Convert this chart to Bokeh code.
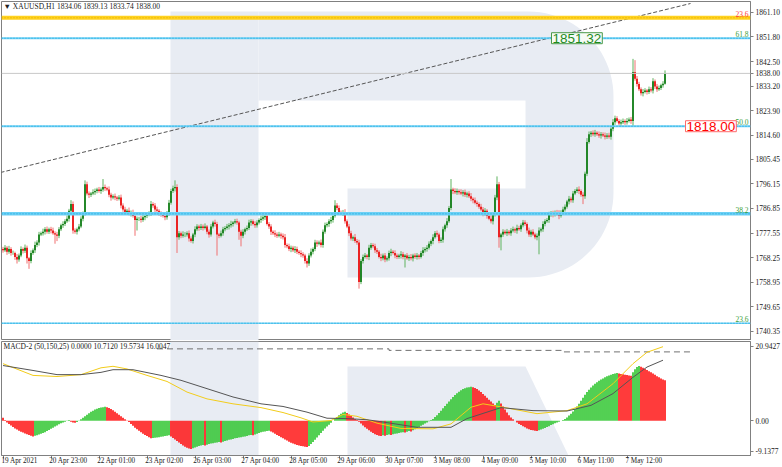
import numpy as np
from bokeh.plotting import figure
from bokeh.layouts import column
from bokeh.models import (Range1d, FixedTicker, PrintfTickFormatter, Label, Span,
                          PolyAnnotation, ColumnDataSource, LinearAxis)
from bokeh.embed import file_html
from bokeh.resources import INLINE

# ---------------- data ----------------
FIRST_OPEN = 1771.5
CLOSE = [
    1771, 1772, 1770.5, 1771.5, 1770, 1770, 1768.5, 1767.5, 1769, 1771.5,
    1770.8, 1772, 1768, 1767, 1770, 1771, 1773, 1774, 1777, 1777.5,
    1778, 1779, 1778, 1779, 1778.5, 1777.5, 1777, 1776.5, 1779, 1780.5,
    1781, 1782, 1783, 1786, 1788.5, 1778.5, 1778, 1779, 1780, 1783,
    1785, 1796, 1792.5, 1792, 1792.5, 1793, 1793.5, 1794, 1793.5, 1794,
    1795, 1794.5, 1794, 1792, 1791, 1791.5, 1791, 1790.5, 1791, 1788,
    1786.5, 1785.5, 1786, 1785, 1785.5, 1784, 1782.5, 1783, 1783, 1782.5,
    1783.5, 1784, 1784.5, 1785, 1788.5, 1788, 1786.5, 1786, 1785, 1784.5,
    1784, 1783.5, 1785, 1789, 1793.5, 1794.5, 1795, 1776, 1777.5, 1776.5,
    1777, 1777, 1777.5, 1775.5, 1774.5, 1777, 1779, 1780, 1779.5, 1780,
    1779.5, 1780, 1778, 1777, 1780, 1781.5, 1781, 1777, 1776.5, 1777.5,
    1779, 1779.5, 1780, 1780.5, 1781, 1781.5, 1782, 1781.5, 1778, 1776.5,
    1778, 1779, 1779.5, 1781.5, 1782, 1781, 1780.5, 1781.5, 1782.5, 1783,
    1783.5, 1784, 1781, 1780, 1778, 1777.5, 1777, 1776.5, 1777, 1776.5,
    1776, 1773, 1772.5, 1771.5, 1772, 1771, 1771.5, 1770.5, 1770, 1769.5,
    1769, 1767, 1766, 1769, 1770.5, 1771.5, 1774, 1773.5, 1774, 1773,
    1778, 1780.5, 1781, 1782, 1782.5, 1784, 1788, 1787, 1785.5, 1785,
    1785.5, 1782, 1780, 1777.5, 1775.5, 1776, 1774.5, 1774, 1759, 1767,
    1768.5, 1769, 1768.5, 1772, 1773, 1772.5, 1771, 1770.5, 1768.5, 1768,
    1769, 1767.5, 1768, 1770, 1770.5, 1770, 1769, 1768.5, 1769, 1769.5,
    1768.5, 1769, 1768, 1768.5, 1768, 1769, 1768.5, 1769, 1768.5, 1770,
    1771, 1771.5, 1772, 1773.5, 1774.5, 1776, 1777.5, 1777, 1774.5, 1775,
    1779, 1780.5, 1782, 1787, 1794, 1793.5, 1793, 1793.5, 1793, 1792.5,
    1793, 1792, 1792.5, 1791.5, 1790.5, 1790, 1789, 1788.5, 1787.5, 1786.5,
    1785, 1786, 1784, 1783, 1782, 1784.5, 1791, 1796, 1776, 1777,
    1778, 1777.5, 1778, 1777.5, 1778.5, 1779, 1778.5, 1779.5, 1779, 1780.5,
    1781.5, 1781, 1778.5, 1777, 1778, 1777, 1776, 1776.5, 1778.5, 1779,
    1781, 1782, 1782.5, 1784.5, 1785, 1784.5, 1785.5, 1785, 1784, 1785.5,
    1786.5, 1787.5, 1789.5, 1790.5, 1790, 1792.5, 1793.5, 1794, 1793.5, 1792,
    1791.5, 1800, 1812, 1815, 1815.5, 1815, 1815.5, 1815, 1814.5, 1815,
    1814.5, 1814, 1814.5, 1814, 1817, 1819.5, 1821, 1820, 1819, 1819.5,
    1820, 1819.5, 1820, 1820.5, 1820, 1838.5, 1836, 1834, 1832, 1830.5,
    1831, 1831.5, 1831, 1832, 1831.5, 1835, 1833, 1832, 1832.5, 1833.5,
    1834.06, 1838.0,
]
UP_WICK = [
    0.8, 1.0, 0.6, 1.2, 0.7, 0.9, 0.5, 1.1, 0.8, 1.0,
    0.6, 1.2, 0.8, 0.5, 1.0, 0.7, 1.3, 0.8, 1.0, 0.6,
    1.2, 0.8, 1.0, 0.6, 0.9, 1.1, 0.7, 1.0, 0.8, 0.6,
    1.0, 0.8, 1.2, 0.7, 1.5, 1.0, 0.8, 0.6, 1.0, 0.9,
    0.7, 1.5, 1.0, 0.8, 0.6, 1.1, 0.9, 0.7, 1.0, 0.8,
    3.0, 0.9, 0.6, 1.2, 0.8, 0.7, 1.0, 0.6, 0.9, 1.1,
    0.8, 1.0, 0.7, 1.2, 0.6, 0.9, 1.0, 0.8, 0.7, 1.1,
    0.9, 0.6, 1.0, 0.8, 1.2, 0.7, 0.9, 1.0, 0.6, 0.8,
    1.0, 0.7, 0.9, 1.1, 0.8, 1.0, 2.5, 1.0, 0.8, 0.6,
    1.2, 0.9, 0.7, 1.0, 0.8, 0.6, 1.1, 0.9, 0.7, 1.0,
    0.8, 1.2, 0.6, 0.9, 1.0, 0.7, 1.1, 0.8, 0.6, 1.0,
    0.9, 0.7, 1.0, 0.8, 1.2, 0.6, 0.9, 1.0, 0.7, 0.8,
    1.0, 0.6, 0.9, 1.1, 0.8, 0.7, 1.0, 0.9, 0.6, 1.2,
    2.0, 0.8, 1.0, 0.7, 0.9, 0.6, 1.1, 0.8, 1.0, 0.7,
    0.9, 1.2, 0.6, 1.0, 0.8, 0.7, 1.1, 0.9, 0.6, 1.0,
    0.8, 0.7, 1.0, 0.9, 1.2, 0.6, 1.0, 0.8, 0.7, 1.1,
    0.9, 1.0, 0.6, 0.8, 1.2, 0.7, 2.0, 0.9, 1.0, 0.6,
    0.8, 1.1, 0.7, 1.0, 0.9, 0.6, 1.2, 0.8, 1.0, 0.7,
    0.9, 1.0, 0.6, 1.1, 0.8, 0.7, 1.0, 0.9, 0.6, 1.2,
    0.8, 1.0, 0.7, 0.9, 1.1, 0.6, 1.0, 0.8, 0.7, 1.2,
    0.9, 0.6, 1.0, 0.8, 1.1, 0.7, 0.9, 1.0, 0.6, 0.8,
    1.2, 0.7, 1.0, 0.9, 0.6, 1.1, 0.8, 1.0, 0.7, 0.9,
    1.0, 0.6, 1.2, 0.8, 4.0, 0.7, 1.0, 0.9, 0.6, 1.1,
    0.8, 1.0, 0.7, 0.9, 1.2, 0.6, 1.0, 0.8, 0.7, 1.1,
    0.9, 1.0, 0.6, 0.8, 1.2, 0.7, 1.0, 3.0, 0.9, 0.6,
    1.0, 0.8, 1.1, 0.7, 0.9, 1.0, 0.6, 1.2, 0.8, 0.7,
    1.0, 0.9, 0.6, 1.1, 0.8, 1.0, 0.7, 0.9, 1.2, 0.6,
    1.0, 0.8, 0.7, 1.1, 0.9, 1.0, 0.6, 0.8, 1.2, 0.7,
    1.0, 0.9, 0.6, 1.1, 0.8, 1.0, 0.7, 0.9, 1.2, 0.6,
    1.0, 0.8, 1.5, 1.0, 0.7, 0.9, 1.1, 0.6, 1.0, 0.8,
    0.7, 1.1, 0.9, 1.0, 0.6, 1.2, 1.0, 0.8, 0.7, 1.0,
    0.9, 0.6, 1.1, 0.8, 1.0, 5.0, 4.5, 1.0, 0.8, 0.7,
    1.1, 0.9, 0.6, 1.0, 0.8, 1.2, 0.7, 1.0, 0.9, 0.6,
    1.0, 1.13,
]
DN_WICK = [
    0.9, 0.6, 1.2, 0.8, 1.0, 0.7, 1.1, 1.5, 0.8, 0.6,
    1.0, 0.8, 2.0, 3.0, 0.9, 0.7, 1.0, 0.8, 1.2, 0.6,
    0.9, 1.0, 0.7, 0.8, 1.1, 0.6, 3.5, 2.0, 0.9, 0.7,
    1.0, 0.8, 0.6, 1.1, 0.9, 1.2, 0.7, 1.0, 0.8, 0.6,
    1.0, 0.9, 0.7, 1.2, 0.8, 0.6, 1.0, 0.9, 0.7, 1.1,
    0.8, 1.0, 0.6, 0.9, 1.2, 0.7, 1.0, 0.8, 0.6, 1.1,
    0.9, 0.7, 1.0, 0.8, 1.2, 0.6, 6.0, 4.0, 0.9, 1.0,
    0.7, 1.1, 0.8, 0.6, 1.0, 0.9, 1.2, 0.7, 1.0, 0.8,
    0.6, 1.1, 0.9, 1.0, 0.7, 0.8, 1.2, 6.0, 1.0, 0.9,
    0.7, 1.0, 0.8, 1.2, 0.6, 0.9, 1.0, 0.7, 1.1, 0.8,
    1.0, 0.6, 0.9, 1.2, 0.8, 0.7, 1.0, 8.0, 0.9, 0.6,
    1.0, 0.8, 0.7, 1.1, 0.9, 1.0, 0.6, 0.8, 3.0, 4.0,
    0.9, 1.0, 0.7, 0.8, 1.2, 0.6, 1.0, 0.9, 0.7, 1.1,
    0.8, 1.0, 0.6, 0.9, 1.2, 0.7, 1.0, 0.8, 0.6, 1.1,
    0.9, 1.0, 0.7, 0.8, 1.2, 0.6, 1.0, 0.9, 0.7, 1.1,
    0.8, 1.0, 1.5, 0.9, 0.7, 1.0, 0.8, 1.2, 0.6, 0.9,
    1.0, 0.7, 0.8, 1.1, 0.9, 1.0, 0.6, 0.8, 1.2, 0.7,
    1.0, 0.9, 0.6, 1.1, 0.8, 1.0, 0.7, 0.9, 2.5, 0.8,
    1.0, 0.6, 0.9, 1.2, 0.8, 0.7, 1.0, 0.9, 0.6, 1.1,
    0.8, 1.0, 0.7, 0.9, 1.2, 0.6, 1.0, 0.8, 0.7, 1.1,
    0.9, 4.0, 0.6, 1.0, 0.8, 1.2, 0.7, 1.0, 0.9, 0.6,
    1.1, 0.8, 1.0, 0.7, 0.9, 1.2, 0.6, 1.0, 0.8, 0.7,
    1.1, 0.9, 1.0, 0.6, 0.8, 1.2, 0.7, 1.0, 0.9, 0.6,
    1.1, 0.8, 1.0, 0.7, 0.9, 1.2, 0.6, 1.0, 0.8, 0.7,
    1.1, 0.9, 1.0, 0.6, 0.8, 1.2, 0.7, 1.0, 4.0, 5.0,
    0.9, 0.6, 1.1, 0.8, 1.0, 0.7, 0.9, 1.2, 0.6, 1.0,
    0.8, 0.7, 1.1, 0.9, 1.0, 0.6, 0.8, 1.2, 7.0, 0.7,
    1.0, 0.9, 0.6, 1.1, 0.8, 1.0, 0.7, 0.9, 1.2, 0.6,
    1.0, 0.8, 0.7, 1.1, 0.9, 1.0, 0.6, 0.8, 1.2, 0.7,
    3.0, 1.0, 0.9, 0.6, 1.1, 0.8, 1.0, 0.7, 0.9, 1.2,
    0.6, 1.0, 0.8, 0.7, 1.1, 0.9, 1.0, 0.6, 0.8, 1.2,
    0.7, 1.0, 0.9, 0.6, 1.1, 2.0, 0.8, 1.0, 0.7, 0.9,
    1.2, 0.6, 1.0, 0.8, 0.7, 1.1, 0.9, 1.0, 0.6, 0.8,
    0.9, 0.32,
]
HIST = [
    0.8, 0.2, -0.4, -0.8, -1.2, -1.6, -2.0, -2.3, -2.6, -2.9,
    -3.1, -3.3, -3.5, -3.7, -3.9, -4.1, -3.9, -3.8, -3.6, -3.4,
    -3.2, -3.0, -2.7, -2.4, -2.1, -1.8, -1.5, -1.2, -0.9, -0.6,
    -0.4, -0.2, 0.1, 0.2, -0.2, -0.4, -0.5, -0.3, 0.1, 0.4,
    0.8, 1.2, 1.6, 2.0, 2.4, 2.7, 3.0, 3.2, 3.4, 3.5,
    3.6, 3.7, 3.6, 3.4, 3.1, 2.8, 2.4, 2.0, 1.6, 1.2,
    0.8, 0.4, 0.1, -0.3, -0.8, -1.3, -1.8, -2.2, -2.6, -3.0,
    -3.4, -3.7, -4.0, -4.3, -4.6, -4.5, -4.45, -4.4, -4.3, -4.2,
    -4.1, -4.0, -3.9, -3.8, -4.1, -4.5, -4.9, -5.3, -5.7, -6.1,
    -6.5, -6.8, -7.1, -7.3, -7.4, -7.2, -7.0, -6.8, -6.6, -6.5,
    -6.4, -6.5, -6.3, -6.1, -6.0, -5.9, -5.8, -5.7, -5.6, -5.7,
    -5.5, -5.3, -5.2, -5.0, -4.9, -4.8, -4.6, -4.5, -4.4, -4.3,
    -4.2, -4.1, -4.0, -3.8, -3.7, -3.8, -3.6, -3.4, -3.2, -3.0,
    -2.9, -2.8, -2.7, -2.6, -2.8, -3.1, -3.4, -3.7, -4.0, -4.3,
    -4.6, -4.9, -5.2, -5.5, -5.8, -6.0, -6.2, -6.4, -6.5, -6.6,
    -6.7, -6.8, -6.9, -6.6, -6.1, -5.6, -5.0, -4.4, -3.8, -3.2,
    -2.6, -2.0, -1.5, -1.0, -0.5, 0.0, 0.5, 1.0, 1.5, 1.9,
    2.2, 2.4, 2.1, 1.7, 1.3, 0.9, 0.5, 0.2, -0.2, -0.7,
    -1.2, -1.7, -2.1, -2.5, -2.9, -3.2, -3.5, -3.7, -3.9, -4.0,
    -3.8, -3.9, -3.7, -3.6, -3.7, -3.5, -3.4, -3.3, -3.2, -3.1,
    -3.0, -3.1, -2.9, -2.7, -2.8, -2.5, -2.2, -1.9, -1.6, -1.3,
    -1.0, -0.7, -0.4, -0.1, 0.2, 0.5, 1.0, 1.5, 2.1, 2.7,
    3.3, 3.9, 4.5, 5.1, 5.7, 6.3, 6.8, 7.3, 7.7, 8.1,
    8.4, 8.6, 8.8, 8.9, 9.0, 8.9, 8.7, 8.4, 8.0, 7.6,
    7.1, 6.6, 6.1, 5.6, 5.1, 4.6, 4.2, 4.8, 5.3, 4.6,
    3.8, 3.0, 2.2, 1.5, 0.9, 0.4, 0.0, -0.4, -0.8, -1.1,
    -1.4, -1.7, -2.0, -2.2, -2.4, -2.5, -2.6, -2.7, -2.5, -2.3,
    -2.1, -1.9, -1.6, -1.4, -1.1, -0.9, -0.6, -0.4, -0.2, 0.0,
    0.2, 0.5, 0.9, 1.4, 1.9, 2.5, 3.1, 3.8, 4.5, 5.3,
    6.1, 6.9, 7.6, 8.2, 8.8, 9.3, 9.8, 10.2, 10.6, 10.9,
    11.2, 11.5, 11.8, 12.0, 12.2, 12.4, 12.5, 12.6, 12.5, 12.4,
    12.3, 12.2, 12.1, 12.0, 11.9, 12.8, 13.6, 14.2, 14.5, 14.3,
    14.0, 13.7, 13.4, 13.1, 12.8, 12.5, 12.2, 11.8, 11.5, 11.2,
    10.9, 10.712,
]
MAIN_I = [0, 15, 27, 39, 49, 55, 62, 72, 82, 92, 102, 115, 129, 140, 149, 155, 164,
          170, 177, 187, 199, 215, 224, 234, 240, 250, 267, 282, 292, 305, 315, 322, 330]
MAIN_V = [15.1, 12.0, 11.7, 12.2, 14.0, 14.4, 13.7, 12.0, 10.4, 7.6, 5.8, 4.5, 3.5, 2.2, 0.8,
          -0.3, 0.1, 1.7, 1.2, -0.6, -2.0, -2.1, -0.8, 3.6, 4.5, 3.6, 1.9, 2.7, 4.5, 9.8,
          15.1, 18.1, 19.5734]
SIG_I = [0, 15, 27, 39, 49, 55, 65, 79, 89, 102, 115, 129, 140, 152, 162, 172, 182, 190,
         207, 224, 232, 249, 265, 282, 294, 305, 315, 322, 330]
SIG_V = [14.6, 13.3, 12.2, 12.2, 12.8, 13.5, 13.5, 12.0, 10.7, 8.5, 6.3, 4.5, 3.8, 2.3, 0.7,
         0.6, 0.3, -0.3, -1.7, -1.7, 0.6, 3.5, 2.7, 2.6, 4.1, 7.2, 11.5, 14.2, 16.0047]
DASH_I = [77, 193, 193, 280, 280, 344]
DASH_V = [19.0, 19.0, 18.6, 18.6, 18.2, 18.2]
FIB_LEVELS = [1859.05, 1851.32, 1818.00, 1784.83, 1743.40]
FIB_NAMES = ["23.6", "61.8", "50.0", "38.2", "23.6"]
LAST_PRICE = 1838.00
TREND_I = [-1.25, 343.75]
TREND_P = [1800.47, 1864.46]
PRICE_TICKS = [1861.10, 1851.80, 1842.50, 1833.20, 1823.90, 1814.60, 1805.45, 1796.15,
               1786.85, 1777.55, 1768.25, 1758.95, 1749.65, 1740.35]
MACD_TICK_LABELS = ["20.9427", "0.00", "-9.1377"]
X_TICK_I = [0, 24, 48, 72, 96, 120, 144, 168, 192, 216, 240, 264, 288, 312]
X_TICK_LABELS = ["19 Apr 2021", "20 Apr 23:00", "22 Apr 01:00", "23 Apr 02:00",
                 "26 Apr 03:00", "27 Apr 04:00", "28 Apr 05:00", "29 Apr 06:00",
                 "30 Apr 07:00", "3 May 08:00", "4 May 09:00", "5 May 10:00",
                 "6 May 11:00", "7 May 12:00"]
HEADER = "\u25BC XAUUSD,H1  1834.06 1839.13 1833.74 1838.00"
MACD_HEADER = "MACD-2 (50,150,25) 0.0000 10.7120 19.5734 16.0047"

n = len(CLOSE)
assert len(UP_WICK) == n and len(DN_WICK) == n and len(HIST) == n, (n, len(UP_WICK), len(DN_WICK), len(HIST))

# ---------------- derived ----------------
idx = list(range(n))
opens = [FIRST_OPEN] + CLOSE[:-1]
highs = [max(o, c) + u for o, c, u in zip(opens, CLOSE, UP_WICK)]
lows = [min(o, c) - d for o, c, d in zip(opens, CLOSE, DN_WICK)]
BULL_BODY, BULL_WICK = "#0c7a12", "#5fb35f"
BEAR_BODY, BEAR_WICK = "#ea0a0a", "#f07070"
body_col = [BULL_BODY if c >= o else BEAR_BODY for o, c in zip(opens, CLOSE)]
wick_col = [BULL_WICK if c >= o else BEAR_WICK for o, c in zip(opens, CLOSE)]
hist_col = ["#ff0a0a"] + ["#28c428" if HIST[k] > HIST[k - 1] else "#ff0a0a" for k in range(1, n)]

# ---------------- layout constants ----------------
FONT = "Liberation Sans Narrow"
FW = 749
H1F, H2F = 339, 114
X0 = -0.75
X1 = X0 + FW / 2.0
Y1_TOP, Y1_BOT = 1865.22, 1736.86
Y2_TOP, Y2_BOT = 20.9427, -9.1377
LOGO = "#e8ecf3"
XLAB_SIZE = 7.2

def bx(px):
    return X0 + (px - 1) / 2.0

def py1(py):
    return Y1_TOP - (py - 1) * (Y1_TOP - Y1_BOT) / H1F

def py2(py):
    return Y2_TOP - (py - 341) * (Y2_TOP - Y2_BOT) / H2F

def arc(cx, cy, r, a0, a1, k=24):
    t = np.radians(np.linspace(a0, a1, k))
    return list(zip(cx + r * np.cos(t), cy + r * np.sin(t)))

# approximate advance widths (em) of the narrow font, for left-aligning time labels
CW = {" ": 0.278, "A": 0.667, "p": 0.556, "r": 0.333, ":": 0.278, "M": 0.833,
      "a": 0.556, "y": 0.5}

def text_px(s, size):
    return sum(CW.get(ch, 0.556) for ch in s) * 0.82 * size

def common(fig):
    fig.grid.visible = False
    fig.background_fill_color = "white"
    fig.border_fill_color = "white"
    fig.outline_line_color = "#808080"
    fig.outline_line_width = 1

def style_axis(a):
    a.axis_line_color = "#808080"
    a.major_tick_line_color = "#808080"
    a.minor_tick_line_color = None
    a.major_tick_in = 0
    a.major_tick_out = 3
    a.major_label_standoff = 2
    a.major_label_text_font = FONT
    a.major_label_text_font_size = "7.5px"
    a.major_label_text_color = "#202020"

# ---------------- price panel ----------------
p1 = figure(frame_width=FW, frame_height=H1F, x_range=Range1d(X0, X1),
            y_range=Range1d(Y1_BOT, Y1_TOP), x_axis_location=None,
            y_axis_location="right", toolbar_location=None, output_backend="svg",
            min_border_left=1, min_border_top=1, min_border_bottom=0, min_border_right=0)
common(p1)

def poly(fig, pts, fy):
    fig.add_layout(PolyAnnotation(xs=[bx(a) for a, b in pts], ys=[fy(b) for a, b in pts],
                                  fill_color=LOGO, fill_alpha=1.0, line_color=None,
                                  level="underlay"))

poly(p1, [(170, 11), (258, 11), (258, 340), (170, 340)], py1)
bowl = [(258, 11)] + arc(528, 96, 85, -90, 0) + arc(528, 192, 85, 0, 90) + \
       [(347, 277), (347, 188), (525, 188), (525, 100), (258, 100)]
poly(p1, bowl, py1)

# fibonacci levels
p1.add_layout(Span(location=FIB_LEVELS[0], dimension="width", line_color="#ffd21f", line_width=4))
p1.add_layout(Span(location=FIB_LEVELS[0], dimension="width", line_color="#e0a800",
                   line_width=1, line_dash="1 2"))
for lvl, w in zip(FIB_LEVELS[1:], [2, 2, 3.5, 1.5]):
    p1.add_layout(Span(location=lvl, dimension="width", line_color="#6cd0f5", line_width=w))
    p1.add_layout(Span(location=lvl, dimension="width", line_color="#1aa6dc",
                       line_width=1, line_dash="1 2"))
p1.add_layout(Span(location=LAST_PRICE, dimension="width", line_color="#c8c8c8", line_width=1))

for lvl, name, col in zip(FIB_LEVELS, FIB_NAMES, ["#ff3b3b"] + ["#3aa03a"] * 4):
    p1.add_layout(Label(x=bx(748), y=lvl, text=name, text_align="right",
                        text_baseline="bottom", y_offset=1, text_font=FONT,
                        text_font_size="7.5px", text_color=col))

# trend line
p1.line(TREND_I, TREND_P, line_color="#555555", line_width=1, line_dash="4 2")

# candles
src = ColumnDataSource(dict(x=idx, o=opens, c=CLOSE, h=highs, l=lows, bc=body_col, wc=wick_col))
p1.segment(x0="x", y0="l", x1="x", y1="h", line_color="wc", line_width=1, source=src)
p1.segment(x0="x", y0="o", x1="x", y1="c", line_color="bc", line_width=1.7, source=src)

# boxed labels
p1.add_layout(Label(x=bx(551), y=FIB_LEVELS[1], text=f"{FIB_LEVELS[1]:.2f}", text_baseline="middle",
                    text_font="Liberation Sans", text_font_size="13.5px", text_color="#1f8a1f",
                    background_fill_color="#f6fbf6", border_line_color="#4a9a4a", padding=1))
p1.add_layout(Label(x=bx(685), y=FIB_LEVELS[2], text=f"{FIB_LEVELS[2]:.2f}", text_baseline="middle",
                    text_font="Liberation Sans", text_font_size="13.5px", text_color="#ff0000",
                    background_fill_color="white", border_line_color="#ff6a6a", padding=1))
p1.add_layout(Label(x=bx(3), y=py1(6), text=HEADER, text_baseline="middle",
                    text_font=FONT, text_font_size="7.5px", text_color="#202020"))

ax = p1.yaxis[0]
ax.ticker = FixedTicker(ticks=PRICE_TICKS + [LAST_PRICE])
ax.formatter = PrintfTickFormatter(format="%.2f")
style_axis(ax)

# ---------------- MACD panel ----------------
p2 = figure(frame_width=FW, frame_height=H2F, x_range=p1.x_range,
            y_range=Range1d(Y2_BOT, Y2_TOP), y_axis_location="right",
            toolbar_location=None, output_backend="svg",
            min_border_left=1, min_border_top=1, min_border_bottom=12, min_border_right=0)
common(p2)
poly(p2, [(170, 341), (258, 341), (258, 455), (170, 455)], py2)
poly(p2, [(347, 366), (525, 366), (568, 455), (347, 455)], py2)

p2.vbar(x=idx, top=HIST, bottom=0, width=0.8, fill_color=hist_col, line_color=None)
p2.line(DASH_I, DASH_V, line_color="#707070", line_width=1, line_dash="6 4")
p2.line(MAIN_I, MAIN_V, line_color="#f2cc1a", line_width=1)
p2.line(SIG_I, SIG_V, line_color="#555555", line_width=1)
p2.add_layout(Label(x=bx(3), y=py2(346), text=MACD_HEADER, text_baseline="middle",
                    text_font=FONT, text_font_size="7.5px", text_color="#202020"))

ay = p2.yaxis[0]
macd_tick_pos = [py2(345.5), 0.0, py2(450.5)]
ay.ticker = FixedTicker(ticks=macd_tick_pos)
ay.major_label_overrides = {t: s for t, s in zip(macd_tick_pos, MACD_TICK_LABELS)}
style_axis(ay)

# time axis: tick marks on the first axis, labels (starting at each tick) on a second one
axx = p2.xaxis[0]
style_axis(axx)
axx.ticker = FixedTicker(ticks=X_TICK_I)
axx.major_label_overrides = {t: "" for t in X_TICK_I}
axx.major_label_text_font_size = "1px"
axx.major_label_standoff = 0

lab_pos = [t + (text_px(s, XLAB_SIZE) / 2.0 + 0.5) / 2.0 for t, s in zip(X_TICK_I, X_TICK_LABELS)]
axl = LinearAxis(ticker=FixedTicker(ticks=lab_pos),
                 major_label_overrides={t: s for t, s in zip(lab_pos, X_TICK_LABELS)})
style_axis(axl)
axl.axis_line_color = None
axl.major_tick_line_color = None
axl.major_tick_out = 0
axl.major_label_standoff = -2
axl.major_label_text_font_size = f"{XLAB_SIZE}px"
p2.add_layout(axl, "below")

layout = column(p1, p2, spacing=0)
open("out.html", "w").write(file_html(layout, INLINE))
